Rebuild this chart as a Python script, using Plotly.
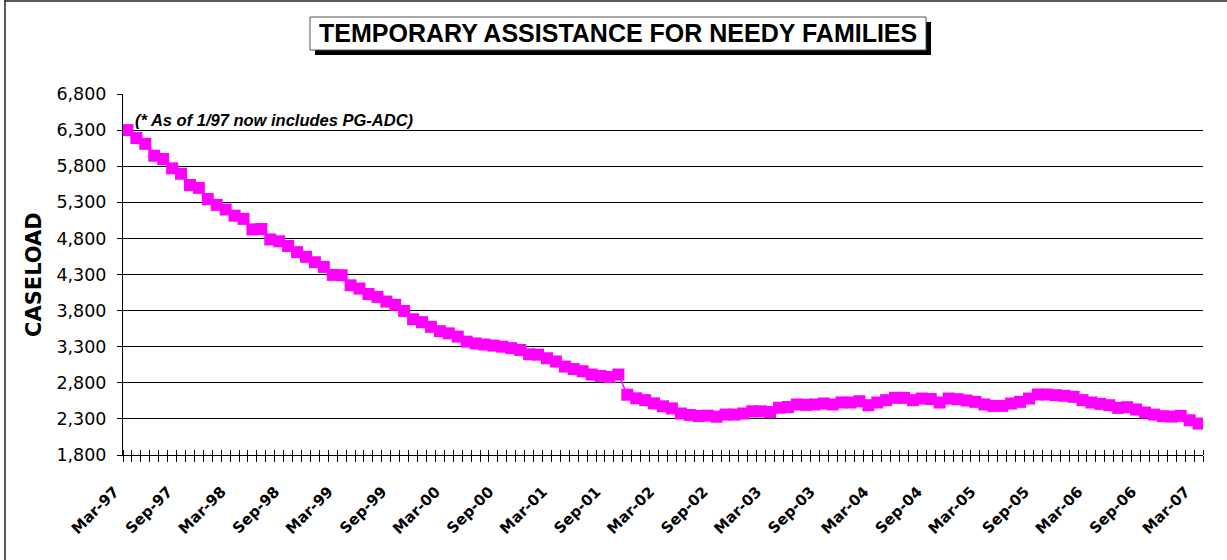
import pandas as pd
import plotly.graph_objects as go

# Monthly TANF caseload, March 1997 through March 2007
months = pd.date_range("1997-03-01", periods=121, freq="MS").strftime("%b-%y").tolist()

caseload = [
    6300, 6190, 6110, 5945, 5900, 5770, 5695, 5540, 5500, 5345,
    5265, 5200, 5115, 5070, 4925, 4930, 4785, 4760, 4695, 4610,
    4545, 4470, 4405, 4295, 4290, 4150, 4105, 4030, 3990, 3925,
    3880, 3795, 3680, 3640, 3575, 3515, 3485, 3440, 3370, 3345,
    3330, 3315, 3300, 3280, 3255, 3195, 3190, 3140, 3095, 3025,
    2990, 2960, 2915, 2895, 2880, 2915, 2635, 2585, 2560, 2515,
    2475, 2445, 2375, 2355, 2340, 2345, 2330, 2360, 2360, 2375,
    2405, 2405, 2395, 2455, 2465, 2500, 2495, 2500, 2513, 2500,
    2528, 2527, 2545, 2490, 2527, 2560, 2592, 2592, 2560, 2582,
    2575, 2527, 2582, 2573, 2555, 2536, 2500, 2480, 2480, 2513,
    2536, 2582, 2638, 2638, 2629, 2620, 2606, 2560, 2527, 2508,
    2490, 2453, 2462, 2430, 2388, 2360, 2337, 2332, 2342, 2281,
    2235,
]

# Every sixth month gets a label on the category axis
label_step = 6
label_idx = list(range(0, len(months), label_step))
label_text = [months[i] for i in label_idx]

y_ticks = list(range(1800, 6801, 500))

title_text = "TEMPORARY ASSISTANCE FOR NEEDY FAMILIES"
note_text = "(* As of 1/97 now includes PG-ADC)"
y_title = "CASELOAD"

MAGENTA = "#FF00FF"
W, H = 1227, 560
ML, MR, MT, MB = 123, 24, 94, 105
PW, PH = W - ML - MR, H - MT - MB


def px(x):
    """pixel column -> paper x"""
    return (x - ML) / PW


def py(y):
    """pixel row -> paper y"""
    return (H - MB - y) / PH


idx = list(range(len(months)))

fig = go.Figure()
fig.add_trace(go.Scatter(
    x=idx, y=caseload, mode="lines+markers",
    line=dict(color=MAGENTA, width=1.5),
    marker=dict(symbol="square", size=12, color=MAGENTA, line=dict(width=0)),
    text=months, hovertemplate="%{text}: %{y:,}<extra></extra>",
    showlegend=False,
))
# companion trace so the overlay axis (inner half of the tick crosses) is drawn
fig.add_trace(go.Scatter(
    x=idx, y=caseload, xaxis="x2", mode="markers",
    marker=dict(opacity=0), hoverinfo="skip", showlegend=False,
))

xrange = [-0.5, len(months) - 0.5]
fig.update_layout(
    width=W, height=H,
    margin=dict(l=ML, r=MR, t=MT, b=MB, pad=0),
    paper_bgcolor="white", plot_bgcolor="white",
    font=dict(family="Liberation Sans, Arial", color="black"),
    xaxis=dict(
        range=xrange, showgrid=False, zeroline=False,
        showline=True, linecolor="black", linewidth=1,
        tickmode="array", tickvals=label_idx, ticktext=label_text,
        ticks="", tickangle=-45, ticklabelstandoff=21, ticklabelshift=-13,
        tickfont=dict(family="DejaVu Sans", size=15, weight="bold", color="black"),
        minor=dict(tickmode="linear", tick0=-0.5, dtick=1, ticks="outside",
                   ticklen=6, tickwidth=1, tickcolor="black", showgrid=False),
    ),
    xaxis2=dict(
        range=xrange, overlaying="x", anchor="y", side="bottom",
        showgrid=False, zeroline=False, showline=False, showticklabels=False,
        ticks="",
        minor=dict(tickmode="linear", tick0=-0.5, dtick=1, ticks="inside",
                   ticklen=5, tickwidth=1, tickcolor="black", showgrid=False),
    ),
    yaxis=dict(
        range=[1800, 6800], tickmode="array", tickvals=y_ticks,
        tickformat=",d", showgrid=True, gridcolor="black", gridwidth=1,
        zeroline=False, showline=True, linecolor="black", linewidth=1,
        ticks="outside", ticklen=5, tickcolor="black", ticklabelstandoff=7,
        tickfont=dict(family="DejaVu Sans", size=17.5, color="black"),
    ),
)

# title box with drop shadow
fig.add_shape(type="rect", xref="paper", yref="paper",
              x0=px(315), x1=px(931), y0=py(55), y1=py(22),
              fillcolor="black", line=dict(width=0))
fig.add_shape(type="rect", xref="paper", yref="paper",
              x0=px(310), x1=px(926), y0=py(50), y1=py(17),
              fillcolor="white", line=dict(color="#555555", width=1))
fig.add_annotation(
    text="<b>" + title_text + "</b>", xref="paper", yref="paper",
    x=px(618), y=py(33.5), xanchor="center", yanchor="middle",
    showarrow=False, font=dict(family="Liberation Sans", size=25, color="black"),
)

# outer frame on the left and top
fig.add_shape(type="line", xref="paper", yref="paper",
              x0=px(5), x1=px(5), y0=py(0), y1=py(H + 5),
              line=dict(color="#222222", width=1.5))
fig.add_shape(type="line", xref="paper", yref="paper",
              x0=px(5), x1=px(W + 5), y0=py(1), y1=py(1),
              line=dict(color="#222222", width=1.5))

# footnote inside the plot
fig.add_annotation(
    text="<b><i>" + note_text + "</i></b>", xref="paper", yref="paper",
    x=px(133), y=py(119.5), xanchor="left", yanchor="middle",
    showarrow=False, font=dict(family="Liberation Sans", size=16.5, color="black"),
)

# vertical axis title
fig.add_annotation(
    text="<b>" + y_title + "</b>", xref="paper", yref="paper",
    x=px(34), y=py(275), xanchor="center", yanchor="middle", textangle=-90,
    showarrow=False, font=dict(family="DejaVu Sans", size=21, color="black"),
)

fig.write_html("out.html")
